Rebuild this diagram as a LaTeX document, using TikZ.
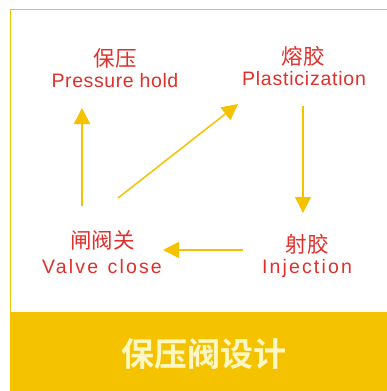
\documentclass[tikz,border=0pt]{standalone}
\usepackage{fontspec}
\setmainfont{Liberation Sans}
\newfontfamily\cjk{Noto Sans CJK SC}
\newfontfamily\cjkbold{Noto Sans CJK SC Bold}
\usetikzlibrary{arrows.meta}
\definecolor{redtxt}{HTML}{E0302C}
\definecolor{gold}{HTML}{F5C200}
\definecolor{cream}{HTML}{FFF7C2}
\tikzset{
  cn/.style={text=redtxt, inner sep=0pt, font=\cjk\fontsize{21.5}{21.5}\selectfont, anchor=center},
  en/.style={text=redtxt, inner sep=0pt, font=\fontsize{19.5}{19.5}\selectfont, anchor=base},
  flow/.style={draw=gold, line width=1.5pt, -{Triangle[width=16pt,length=16pt]}},
}
\begin{document}
\begin{tikzpicture}[x=1pt,y=-1pt]
\useasboundingbox (0,0) rectangle (387,391);
\fill[white] (0,0) rectangle (387,391);
% frame
\draw[gold, line width=1.5pt] (10.5,312) -- (10.5,9.5) -- (388,9.5);
\fill[gold] (9.75,312) rectangle (388,392);
\node[inner sep=0pt, text=cream, font=\cjkbold\fontsize{33}{33}\selectfont] (title) at (203.5,354) {保压阀设计};
% labels
\node[cn] (holdcn) at (115,58) {保压};
\node[en] (holden) at (115,87) {\addfontfeature{LetterSpace=3}Pressure hold};
\node[cn] (plascn) at (303,56) {熔胶};
\node[en] (plasen) at (304,85) {\addfontfeature{LetterSpace=4}Plasticization};
\node[cn] (valvecn) at (102.5,240) {闸阀关};
\node[en] (valveen) at (102,273) {\addfontfeature{LetterSpace=11}Valve\hspace{2pt} close};
\node[cn] (injcn) at (307,244) {射胶};
\node[en] (injen) at (307,273) {\addfontfeature{LetterSpace=11}Injection};
% arrow end points
\coordinate (a1) at (82,206);  \coordinate (a2) at (82,108);
\coordinate (b1) at (118,198); \coordinate (b2) at (238,104);
\coordinate (c1) at (303,106); \coordinate (c2) at (303,213);
\coordinate (d1) at (243,250); \coordinate (d2) at (163,250);
\draw[flow] (a1) -- (a2);
\draw[flow] (b1) -- (b2);
\draw[flow] (c1) -- (c2);
\draw[flow] (d1) -- (d2);
\end{tikzpicture}
\end{document}
